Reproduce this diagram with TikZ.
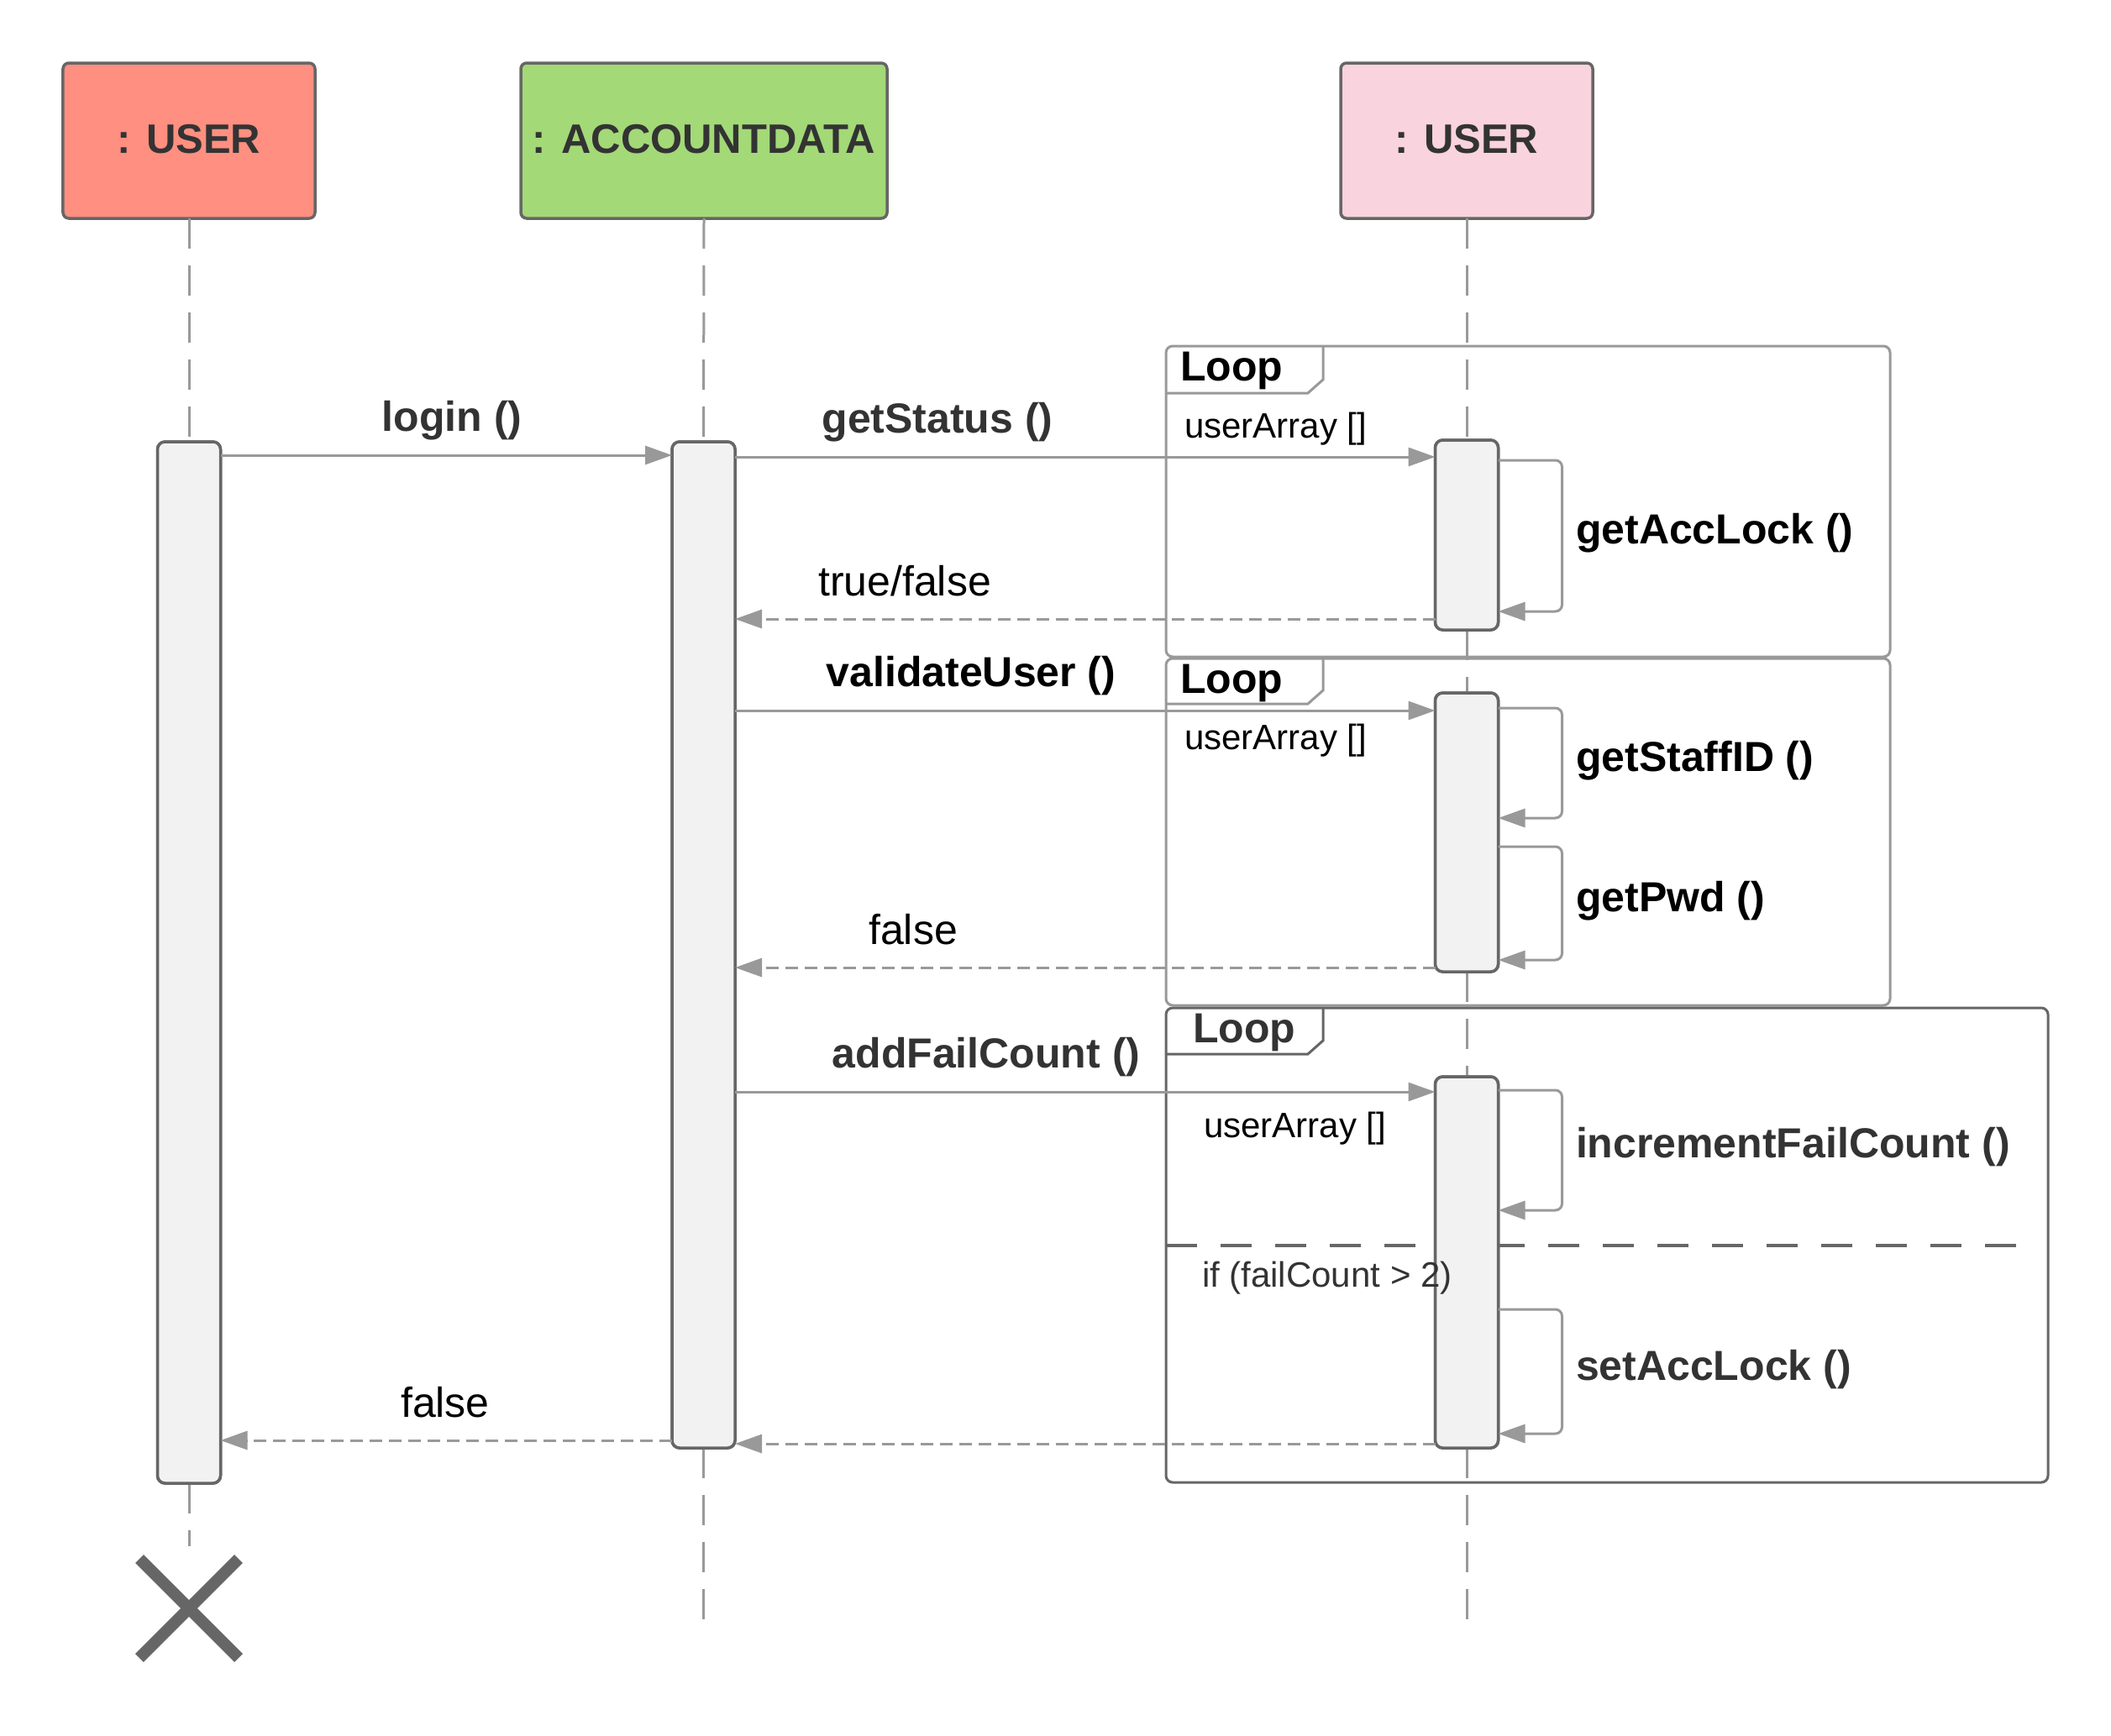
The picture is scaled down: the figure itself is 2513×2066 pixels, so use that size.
\documentclass[tikz,border=0pt]{standalone}
\usepackage{fontspec}
\setmainfont{Liberation Sans}
\usetikzlibrary{arrows.meta,shapes.misc}

\definecolor{ink}{HTML}{333333}
\definecolor{edge}{HTML}{666666}
\definecolor{wire}{HTML}{999999}
\definecolor{barfill}{HTML}{F2F2F2}
\definecolor{userred}{HTML}{FF8F80}
\definecolor{datagreen}{HTML}{A3D977}
\definecolor{userpink}{HTML}{F9D3DD}

\begin{document}
\begin{tikzpicture}[x=1bp,y=-1bp,
  every node/.style={inner sep=0pt,outer sep=0pt},
  headfont/.style={font=\fontsize{49bp}{58bp}\selectfont\bfseries},
  bigb/.style={font=\fontsize{50bp}{60bp}\selectfont\bfseries},
  big/.style={font=\fontsize{50bp}{60bp}\selectfont},
  small/.style={font=\fontsize{42bp}{50bp}\selectfont},
  head/.style={draw=edge,line width=3.5bp,rounded corners=7bp,minimum height=185bp,headfont,text=ink},
  bar/.style={draw=edge,fill=barfill,line width=3.5bp,rounded corners=9bp,minimum width=75bp},
  life/.style={draw=wire,line width=3bp,dash pattern=on 36bp off 20bp},
  call/.style={draw=wire,line width=3bp,-{Triangle[length=32bp,width=22bp]}},
  reply/.style={call,dash pattern=on 15bp off 8bp},
  selfcall/.style={call,rounded corners=8bp},
  frame/.style={draw=wire,line width=3bp,rounded corners=8bp},
  darkframe/.style={frame,draw=edge},
  lbl/.style={anchor=base},
  lblw/.style={anchor=base west},
  crossmark/.style={cross out,draw=edge,line width=14bp,minimum size=118bp}
]
\useasboundingbox[fill=white] (0,0) rectangle (2513,2066);

% participants
\node[head,fill=userred,minimum width=300bp] (h1) at (225,167.5) {\raisebox{5bp}{: USER}};
\node[head,fill=datagreen,minimum width=436bp] (h2) at (838,167.5) {\raisebox{5bp}{: ACCOUNTDATA}};
\node[head,fill=userpink,minimum width=300bp] (h3) at (1746,167.5) {\raisebox{5bp}{: USER}};

% activation bars (placed first so lifelines can refer to them)
\node[bar,minimum height=1240bp] (a1) at (225,1146) {};
\node[bar,minimum height=1198bp] (a2) at (837.5,1125) {};
\node[bar,minimum height=226bp] (a3a) at (1746,637) {};
\node[bar,minimum height=332bp] (a3b) at (1746,991) {};
\node[bar,minimum height=442bp] (a3c) at (1746,1503) {};

% lifelines
\draw[life] (h1.south) -- (a1.north);
\draw[life] (a1.south) -- ++(0,75);
\draw[life] (h2.south) -- (a2.north);
\draw[life] (a2.south) -- ++(0,212);
\draw[life] (h3.south) -- (a3a.north);
\draw[life] (a3a.south) -- (a3b.north);
\draw[life] (a3b.south) -- (a3c.north);
\draw[life] (a3c.south) -- ++(0,212);

% loop fragments
\node[frame,minimum width=862bp,minimum height=370bp] (loop1) at (1819,597) {};
\draw[frame,rounded corners=0pt] (loop1.north west) ++(0,56) -- ++(169,0) -- ++(18,-16) -- ++(0,-40);
\node[bigb,lblw,text=black] (loop1t) at (1405,453) {Loop};
\node[small,lblw,text=black] (loop1g) at (1410,521) {userArray []};

\node[frame,minimum width=862bp,minimum height=413bp] (loop2) at (1819,990.5) {};
\draw[frame,rounded corners=0pt] (loop2.north west) ++(0,54) -- ++(169,0) -- ++(18,-16) -- ++(0,-38);
\node[bigb,lblw,text=black] (loop2t) at (1405,825) {Loop};
\node[small,lblw,text=black] (loop2g) at (1410,892) {userArray []};

\node[darkframe,minimum width=1050bp,minimum height=565bp] (loop3) at (1913,1482.5) {};
\draw[darkframe,rounded corners=0pt] (loop3.north west) ++(0,55) -- ++(169,0) -- ++(18,-16) -- ++(0,-39);
\node[bigb,lblw,text=ink] (loop3t) at (1420,1241) {Loop};
\node[small,lblw,text=black] (loop3g) at (1433,1354) {userArray []};
\draw[draw=edge,line width=3.5bp,dash pattern=on 37bp off 28bp] (loop3.west |- 0,1483) -- ++(1024,0);

% bars drawn again on top of the lifelines and fragments
\node[bar,minimum height=1240bp] at (a1) {};
\node[bar,minimum height=1198bp] at (a2) {};
\node[bar,minimum height=226bp] at (a3a) {};
\node[bar,minimum height=332bp] at (a3b) {};
\node[bar,minimum height=442bp] at (a3c) {};

% guard of the second operand, set over the bar
\node[small,lblw,text=ink] (cond) at (1431,1532) {if (failCount > 2)};

% messages
\draw[call] (a1.east |- 0,542) -- (a2.west |- 0,542);
\node[bigb,lbl,text=ink] (m1) at (538,513) {login ()};

\draw[call] (a2.east |- 0,544) -- (a3a.west |- 0,544);
\node[bigb,lbl,text=ink] (m2) at (1116,515) {getStatus ()};

\draw[selfcall] (a3a.east |- 0,548) -- ++(76,0) -- ++(0,180) -- (a3a.east |- 0,728);
\node[bigb,lblw,text=black] (m3) at (1876,647) {getAccLock ()};

\draw[reply] (a3a.west |- 0,737) -- (a2.east |- 0,737);
\node[big,lbl,text=black] (m4) at (1077,709) {true/false};

\draw[call] (a2.east |- 0,846) -- (a3b.west |- 0,846);
\node[bigb,lbl,text=black] (m5) at (1156,817) {validateUser ()};

\draw[selfcall] (a3b.east |- 0,843) -- ++(76,0) -- ++(0,131) -- (a3b.east |- 0,974);
\node[bigb,lblw,text=black] (m6) at (1876,918) {getStaffID ()};

\draw[selfcall] (a3b.east |- 0,1008) -- ++(76,0) -- ++(0,135) -- (a3b.east |- 0,1143);
\node[bigb,lblw,text=black] (m7) at (1876,1085) {getPwd ()};

\draw[reply] (a3b.west |- 0,1152) -- (a2.east |- 0,1152);
\node[big,lbl,text=black] (m8) at (1087,1124) {false};

\draw[call] (a2.east |- 0,1300) -- (a3c.west |- 0,1300);
\node[bigb,lbl,text=ink] (m9) at (1174,1271) {addFailCount ()};

\draw[selfcall] (a3c.east |- 0,1298) -- ++(76,0) -- ++(0,143) -- (a3c.east |- 0,1441);
\node[bigb,lblw,text=ink] (m10) at (1876,1378) {incrementFailCount ()};

\draw[selfcall] (a3c.east |- 0,1559) -- ++(76,0) -- ++(0,148) -- (a3c.east |- 0,1707);
\node[bigb,lblw,text=ink] (m11) at (1876,1643) {setAccLock ()};

\draw[reply] (a3c.west |- 0,1719) -- (a2.east |- 0,1719);

\draw[reply] (a2.west |- 0,1715) -- (a1.east |- 0,1715);
\node[big,lbl,text=black] (m12) at (530,1687) {false};

% destruction of the first participant
\node[crossmark] (end1) at (225,1915) {};
\end{tikzpicture}
\end{document}
